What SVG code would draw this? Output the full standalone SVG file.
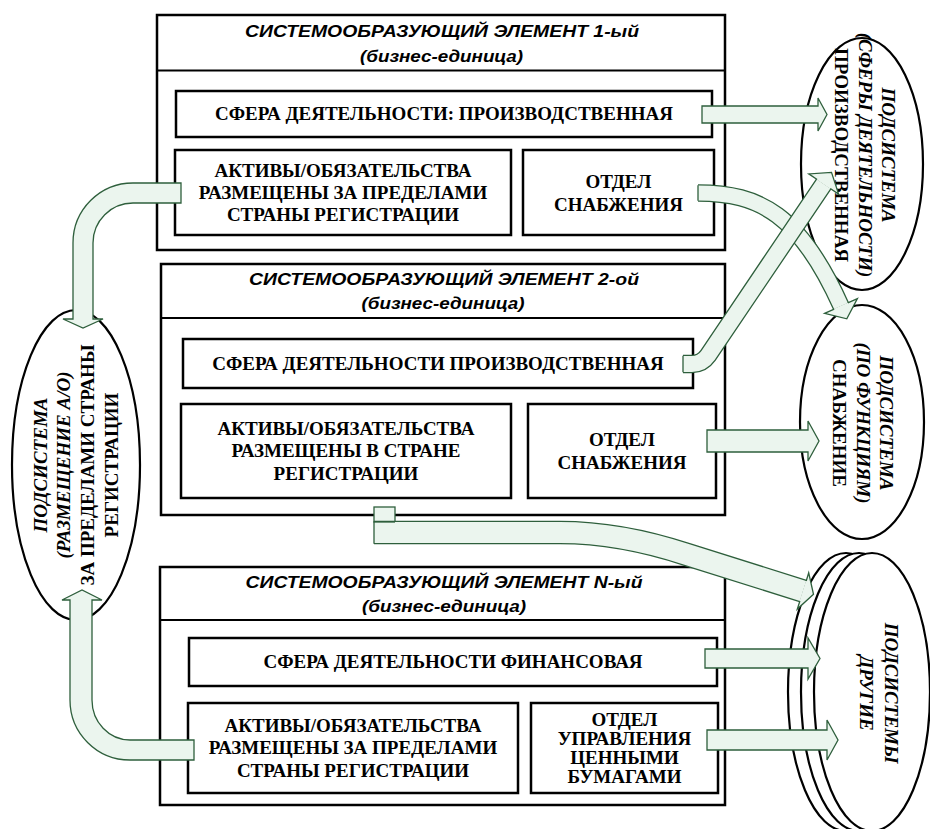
<svg xmlns="http://www.w3.org/2000/svg" width="930" height="829" viewBox="0 0 930 829">
<style>
.box{fill:#fff;stroke:#000;stroke-width:2.5}
.dv{stroke:#000;stroke-width:2}
.ttl{font-family:"Liberation Sans",Arial,sans-serif;font-weight:bold;font-style:italic;font-size:16.5px;text-anchor:middle;fill:#000}
.t{font-family:"Liberation Serif","Times New Roman",serif;font-weight:bold;font-size:19px;text-anchor:middle;fill:#000}
.it{font-style:italic}
.ell{fill:#fff;stroke:#000;stroke-width:2.2}
.arr{fill:#EBF5EE;stroke:#2E5F3C;stroke-width:1.3}
.sd{fill:none;stroke:#2E5F3C}
.sl{fill:none;stroke:#EBF5EE}
.tl{stroke:#2E5F3C;stroke-width:1.3}
</style>
<rect width="930" height="829" fill="#fff"/>

<g id="element1">
<rect class="box" x="157" y="15" width="568" height="235"/>
<line class="dv" x1="157" y1="70.5" x2="725" y2="70.5"/>
<text class="ttl" x="442" y="37" textLength="394" lengthAdjust="spacingAndGlyphs">СИСТЕМООБРАЗУЮЩИЙ ЭЛЕМЕНТ 1-ый</text>
<text class="ttl" x="441.5" y="62" textLength="163" lengthAdjust="spacingAndGlyphs">(бизнес-единица)</text>
</g>
<g id="e1-sphere">
<rect class="box" x="176" y="91" width="536" height="46"/>
<text class="t" x="444" y="120">СФЕРА ДЕЯТЕЛЬНОСТИ: ПРОИЗВОДСТВЕННАЯ</text>
</g>
<g id="e1-assets">
<rect class="box" x="175" y="150" width="336" height="85"/>
<text class="t" x="343" y="177">АКТИВЫ/ОБЯЗАТЕЛЬСТВА</text>
<text class="t" x="343" y="199">РАЗМЕЩЕНЫ ЗА ПРЕДЕЛАМИ</text>
<text class="t" x="343" y="221">СТРАНЫ РЕГИСТРАЦИИ</text>
</g>
<g id="e1-supply">
<rect class="box" x="523" y="150" width="191" height="85"/>
<text class="t" x="618.5" y="188">ОТДЕЛ</text>
<text class="t" x="618.5" y="211">СНАБЖЕНИЯ</text>
</g>

<g id="element2">
<rect class="box" x="161" y="264" width="564" height="251"/>
<line class="dv" x1="161" y1="318" x2="725" y2="318"/>
<text class="ttl" x="444" y="285" textLength="390" lengthAdjust="spacingAndGlyphs">СИСТЕМООБРАЗУЮЩИЙ ЭЛЕМЕНТ 2-ой</text>
<text class="ttl" x="443" y="309" textLength="163" lengthAdjust="spacingAndGlyphs">(бизнес-единица)</text>
</g>
<g id="e2-sphere">
<rect class="box" x="183" y="339" width="510" height="49"/>
<text class="t" x="438" y="370">СФЕРА ДЕЯТЕЛЬНОСТИ ПРОИЗВОДСТВЕННАЯ</text>
</g>
<g id="e2-assets">
<rect class="box" x="181" y="404" width="330" height="94"/>
<text class="t" x="346" y="435">АКТИВЫ/ОБЯЗАТЕЛЬСТВА</text>
<text class="t" x="346" y="457">РАЗМЕЩЕНЫ В СТРАНЕ</text>
<text class="t" x="346" y="480">РЕГИСТРАЦИИ</text>
</g>
<g id="e2-supply">
<rect class="box" x="528" y="404" width="188" height="94"/>
<text class="t" x="622" y="446">ОТДЕЛ</text>
<text class="t" x="622" y="469">СНАБЖЕНИЯ</text>
</g>

<g id="elementN">
<rect class="box" x="160" y="567" width="565" height="238"/>
<line class="dv" x1="160" y1="620" x2="725" y2="620"/>
<text class="ttl" x="444" y="588" textLength="397" lengthAdjust="spacingAndGlyphs">СИСТЕМООБРАЗУЮЩИЙ ЭЛЕМЕНТ N-ый</text>
<text class="ttl" x="444" y="612" textLength="164" lengthAdjust="spacingAndGlyphs">(бизнес-единица)</text>
</g>
<g id="eN-sphere">
<rect class="box" x="189" y="638" width="528" height="48"/>
<text class="t" x="453" y="668">СФЕРА ДЕЯТЕЛЬНОСТИ ФИНАНСОВАЯ</text>
</g>
<g id="eN-assets">
<rect class="box" x="188" y="703" width="330" height="90"/>
<text class="t" x="353" y="732">АКТИВЫ/ОБЯЗАТЕЛЬСТВА</text>
<text class="t" x="353" y="754">РАЗМЕЩЕНЫ ЗА ПРЕДЕЛАМИ</text>
<text class="t" x="353" y="777">СТРАНЫ РЕГИСТРАЦИИ</text>
</g>
<g id="eN-securities">
<rect class="box" x="531" y="703" width="187" height="90"/>
<text class="t" x="624.5" y="726">ОТДЕЛ</text>
<text class="t" x="624.5" y="745">УПРАВЛЕНИЯ</text>
<text class="t" x="624.5" y="764">ЦЕННЫМИ</text>
<text class="t" x="624.5" y="783">БУМАГАМИ</text>
</g>

<g id="sub-production">
<ellipse class="ell" cx="862" cy="164" rx="61" ry="126"/>
<text class="t it" transform="translate(882,155) rotate(90)">ПОДСИСТЕМА</text>
<text class="t it" transform="translate(859,155) rotate(90)">(СФЕРЫ ДЕЯТЕЛЬНОСТИ)</text>
<text class="t" transform="translate(835,155) rotate(90)">ПРОИЗВОДСТВЕННАЯ</text>
</g>
<g id="sub-supply">
<ellipse class="ell" cx="862" cy="422" rx="62" ry="117"/>
<text class="t it" transform="translate(880,423) rotate(90)">ПОДСИСТЕМА</text>
<text class="t it" transform="translate(857,423) rotate(90)">(ПО ФУНКЦИЯМ)</text>
<text class="t" transform="translate(833,423) rotate(90)">СНАБЖЕНИЕ</text>
</g>
<g id="sub-others">
<ellipse class="ell" cx="846" cy="692" rx="58" ry="139"/>
<ellipse class="ell" cx="859" cy="692" rx="58" ry="139"/>
<ellipse class="ell" cx="872" cy="692" rx="58" ry="139"/>
<text class="t it" transform="translate(885,693) rotate(90)">ПОДСИСТЕМЫ</text>
<text class="t it" transform="translate(860,693) rotate(90)">ДРУГИЕ</text>
</g>
<g id="sub-placement">
<ellipse class="ell" cx="76" cy="465" rx="64" ry="155"/>
<text class="t it" transform="translate(47,465) rotate(-90)">ПОДСИСТЕМА</text>
<text class="t it" transform="translate(70,465) rotate(-90)">(РАЗМЕЩЕНИЕ А/О)</text>
<text class="t" transform="translate(94,465) rotate(-90)">ЗА ПРЕДЕЛАМИ СТРАНЫ</text>
<text class="t" transform="translate(118,465) rotate(-90)">РЕГИСТРАЦИИ</text>
</g>

<g id="connectors">
<path class="arr" d="M702,106 H818 V98 L827,114.5 L818,131 V123 H702 Z"/>
<path class="arr" d="M707,430 H808 V421 L819,441 L808,461 V452 H707 Z"/>
<path class="arr" d="M705,649 H808 V638 L820,658.5 L808,679 V668 H705 Z"/>
<path class="arr" d="M707,730 H827 V720 L838,740 L827,760 V750 H707 Z"/>
<path class="arr" d="M181,183 H133 A60,60 0 0 0 73,243 V319 H63 L83,328 L103,319 H93 V243 A40,40 0 0 1 133,203 H181 Z"/>
<path class="arr" d="M194,740 H130 A38,40 0 0 1 92,700 V600 H102 L82,590 L62,600 H70 V700 A60,60 0 0 0 130,760 H194 Z"/>
<g id="arrow-supply">
<path class="sd" stroke-width="17.6" d="M698,193 C760,193 800,215 841,306"/>
<path class="sl" stroke-width="15" d="M698,193 C760,193 800,215 841,306"/>
<line class="tl" x1="698" y1="185.2" x2="698" y2="200.8"/>
<path class="arr" d="M847.8,302.9 L857.4,298.6 L846.8,318.8 L824.6,313.4 L834.2,309.1"/>
</g>
<g id="arrow-sphere2">
<path class="sd" stroke-width="18.6" d="M683,364 L692,364 Q702,364 708,355.5 L823.7,184"/>
<path class="sl" stroke-width="16" d="M683,364 L692,364 Q702,364 708,355.5 L823.7,184"/>
<line class="tl" x1="683" y1="355.7" x2="683" y2="372.3"/>
<path class="arr" d="M830.3,188.5 L838.6,194.1 L831.5,172.4 L808.8,173.9 L817.1,179.5"/>
</g>
<g id="arrow-others">
<rect class="arr" x="374" y="507" width="21" height="15"/>
<path class="sd" stroke-width="23.6" d="M374,532.5 L560,532.5 C600,532.5 640,539 687,554.5 L803,591"/>
<path class="sl" stroke-width="21" d="M374,532.5 L560,532.5 C600,532.5 640,539 687,554.5 L803,591"/>
<line class="tl" x1="374" y1="521.3" x2="374" y2="543.7"/>
<line class="tl" x1="374" y1="522" x2="395" y2="522"/>
<path class="arr" d="M806.2,581 L808.7,572.9 L813.5,594.3 L797.3,609.1 L799.9,601"/>
</g>
</g>
</svg>
